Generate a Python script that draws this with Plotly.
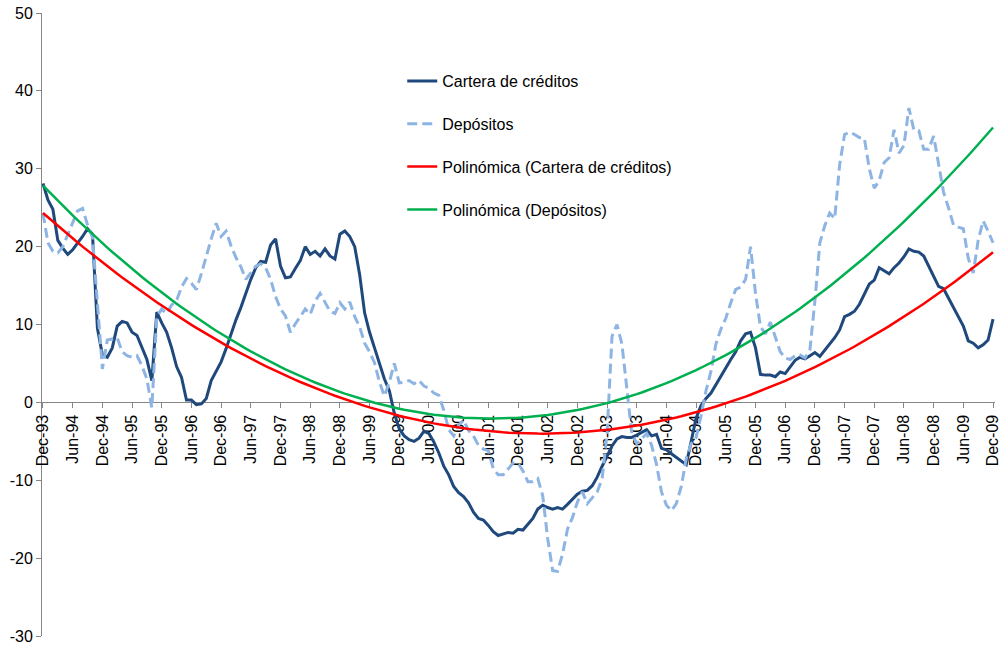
import numpy as np
import plotly.graph_objects as go

# Monthly series, Dec-93 .. Dec-09 (193 months), % annual change
cartera = [
    28.1, 26.0, 24.8, 20.8, 19.8, 19.0, 19.6, 20.4, 21.3, 22.3, 21.6, 9.5,
    6.1, 5.8, 7.0, 9.8, 10.4, 10.2, 9.0, 8.6, 7.0, 5.5, 2.8, 11.6,
    10.2, 9.0, 7.0, 4.6, 3.2, 0.3, 0.3, -0.3, -0.2, 0.5, 2.8, 4.0,
    5.2, 6.9, 8.9, 10.6, 12.2, 14.0, 15.8, 17.3, 18.1, 18.0, 20.2, 21.0,
    17.5, 16.0, 16.1, 17.2, 18.2, 20.0, 19.0, 19.4, 18.8, 19.7, 18.8, 18.4,
    21.6, 22.0, 21.3, 20.0, 16.4, 11.5, 9.0, 7.0, 5.0, 3.0, 1.5, -1.4,
    -3.4, -4.3, -4.8, -5.0, -4.6, -3.7, -4.0, -5.1, -6.5, -8.2, -9.3, -10.8,
    -11.6, -12.1, -12.9, -14.1, -14.9, -15.1, -15.8, -16.6, -17.1, -16.9, -16.7, -16.8,
    -16.3, -16.4, -15.7, -14.9, -13.7, -13.2, -13.5, -13.7, -13.5, -13.7, -13.1, -12.5,
    -11.8, -11.4, -11.3, -10.7, -9.6, -8.2, -7.0, -5.6, -4.7, -4.4, -4.5, -4.5,
    -4.2, -3.8, -3.5, -4.3, -4.1, -5.9, -6.1, -6.6, -7.1, -7.6, -8.0, -5.0,
    -2.0, -0.4, 0.5, 1.2, 2.3, 3.4, 4.5, 5.5, 6.5, 7.9, 8.8, 9.0,
    7.0, 3.6, 3.5, 3.5, 3.3, 3.9, 3.7, 4.5, 5.4, 5.8, 5.6, 6.0,
    6.4, 5.9, 6.7, 7.6, 8.3, 9.3, 11.0, 11.3, 11.7, 12.6, 13.9, 15.2,
    15.7, 17.3, 16.9, 16.5, 17.3, 17.9, 18.7, 19.7, 19.4, 19.3, 18.8, 17.5,
    16.2, 14.9, 14.6, 13.4, 12.3, 11.0, 9.8, 7.9, 7.6, 7.0, 7.4, 8.0,
    10.7,
]

depositos = [
    24.3, 20.5, 19.4, 19.2, 20.0, 21.5, 23.2, 24.6, 24.9, 22.8, 21.2, 13.0,
    4.3, 8.0, 8.2, 8.3, 6.5, 6.0, 5.8, 6.0, 4.7, 3.0, -0.7, 11.0,
    12.0, 11.4, 12.5, 13.1, 14.8, 15.9, 15.3, 14.5, 16.5, 18.9, 21.0, 23.0,
    21.3, 22.0, 20.1, 18.6, 17.4, 15.8, 16.6, 17.5, 17.8, 17.3, 15.8, 13.6,
    12.0, 11.1, 9.0, 10.1, 11.0, 12.0, 11.3, 13.0, 14.0, 12.9, 11.7, 11.4,
    12.8, 12.0, 12.9, 11.0, 9.7, 7.6, 6.5, 5.1, 2.6, 0.8, 2.6, 5.0,
    2.5, 2.6, 2.8, 2.4, 2.8, 2.1, 1.8, 1.2, 0.9, -1.0, -3.5, -4.3,
    -2.9, -2.3, -3.6, -4.3, -5.5, -6.0, -6.2, -8.5, -9.3, -9.3, -8.6, -7.8,
    -7.8, -8.8, -10.2, -10.2, -9.8, -12.0, -17.5, -21.6, -21.7, -19.5, -16.3, -14.8,
    -12.8, -11.5, -13.0, -12.3, -11.5, -9.8, -4.0, 8.5, 10.0, 7.5, 1.5, -4.0,
    -5.3, -4.7, -4.0, -5.5, -8.0, -11.5, -13.2, -13.9, -13.0, -10.8, -7.2, -5.3,
    -4.5, -1.7, 1.5, 4.0, 7.5, 9.4, 10.8, 12.8, 14.5, 14.8, 15.8, 20.0,
    14.0, 9.7, 8.8, 10.3, 8.3, 6.5, 5.7, 5.5, 6.0, 6.1, 5.7, 6.8,
    13.0, 20.5, 22.7, 24.3, 23.6, 30.5, 34.4, 34.7, 34.4, 34.0, 33.9, 30.0,
    27.5, 28.5, 30.8, 31.4, 35.0, 32.0, 33.0, 37.8, 35.0, 34.9, 32.5, 32.5,
    34.2, 30.5, 27.0, 25.0, 22.8, 22.5, 22.3, 18.5, 16.6, 20.8, 23.3, 22.0,
    20.5,
]

tick_labels = [
    "Dec-93", "Jun-94", "Dec-94", "Jun-95", "Dec-95", "Jun-96", "Dec-96",
    "Jun-97", "Dec-97", "Jun-98", "Dec-98", "Jun-99", "Dec-99", "Jun-00",
    "Dec-00", "Jun-01", "Dec-01", "Jun-02", "Dec-02", "Jun-03", "Dec-03",
    "Jun-04", "Dec-04", "Jun-05", "Dec-05", "Jun-06", "Dec-06", "Jun-07",
    "Dec-07", "Jun-08", "Dec-08", "Jun-09", "Dec-09",
]

y_ticks = [-30, -20, -10, 0, 10, 20, 30, 40, 50]

months = np.arange(len(cartera))
tick_step = 6

# Second-order polynomial trend lines fitted to each series
trend_cartera = np.polyval(np.polyfit(months, cartera, 2), months)
trend_depositos = np.polyval(np.polyfit(months, depositos, 2), months)

FONT = "Liberation Sans, Arial, sans-serif"
AXIS_GREY = "#868686"

fig = go.Figure()
fig.add_trace(go.Scatter(
    x=months, y=cartera, mode="lines", name="Cartera de créditos",
    line=dict(color="#1F497D", width=3), legendgroup="a",
))
fig.add_trace(go.Scatter(
    x=months, y=depositos, mode="lines", name="Depósitos",
    line=dict(color="#8DB4E2", width=3, dash="10px,5px"), legendgroup="b",
))
fig.add_trace(go.Scatter(
    x=months, y=trend_cartera, mode="lines",
    name="Polinómica (Cartera de créditos)",
    line=dict(color="#FF0000", width=2.5), legendgroup="c",
))
fig.add_trace(go.Scatter(
    x=months, y=trend_depositos, mode="lines",
    name="Polinómica (Depósitos)",
    line=dict(color="#00B050", width=2.5), legendgroup="d",
))

y_min, y_max = y_ticks[0], y_ticks[-1]

fig.update_layout(
    width=1003, height=647,
    margin=dict(l=42, r=8, t=13, b=11),
    paper_bgcolor="white", plot_bgcolor="white",
    font=dict(family=FONT, size=16, color="#000000"),
    showlegend=True,
    legend=dict(
        x=0.378, y=0.918, xanchor="left", yanchor="top",
        bgcolor="rgba(0,0,0,0)", font=dict(family=FONT, size=16),
        tracegroupgap=19, itemwidth=30,
    ),
    xaxis=dict(
        range=[-0.2, len(cartera) - 1 + 0.4],
        tickvals=list(months[::tick_step]), ticktext=tick_labels,
        tickangle=-90, ticks="outside", ticklen=5, tickcolor=AXIS_GREY,
        showline=True, linecolor=AXIS_GREY, linewidth=1,
        showgrid=False, zeroline=False, automargin=False,
        anchor="free", position=(0 - y_min) / (y_max - y_min),
        layer="below traces",
        tickfont=dict(family=FONT, size=16),
    ),
    yaxis=dict(
        range=[y_min, y_max],
        tickvals=y_ticks, ticktext=[str(v) for v in y_ticks],
        ticks="outside", ticklen=5, tickcolor=AXIS_GREY,
        showline=True, linecolor=AXIS_GREY, linewidth=1,
        showgrid=False, zeroline=False, automargin=False,
        layer="below traces",
        tickfont=dict(family=FONT, size=16),
    ),
)

fig.write_html("out.html")
